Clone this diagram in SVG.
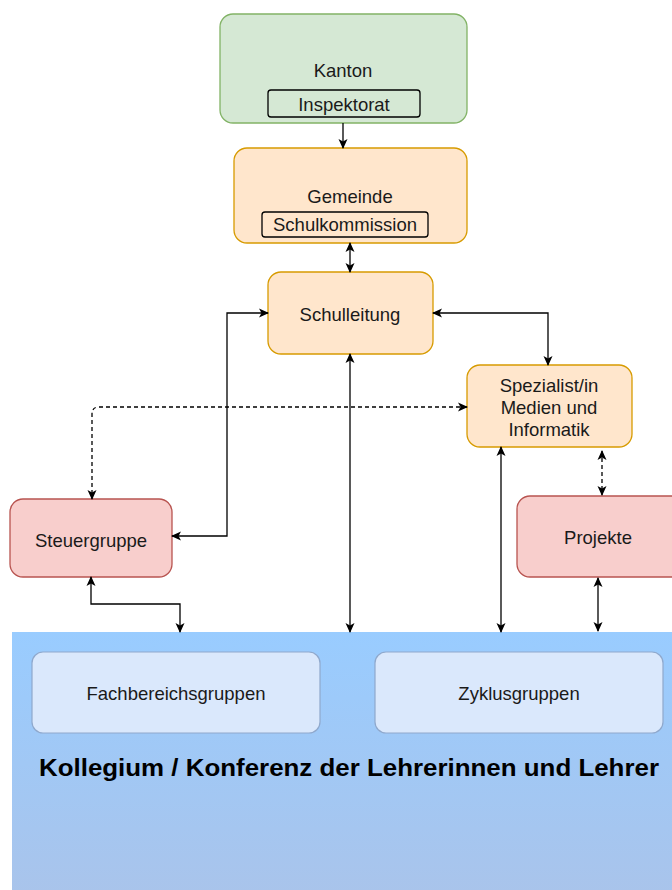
<svg xmlns="http://www.w3.org/2000/svg" width="672" height="890" viewBox="0 0 672 890">
<defs>
<linearGradient id="kg" x1="0" y1="0" x2="0" y2="1">
<stop offset="0" stop-color="#99ccff"/>
<stop offset="1" stop-color="#a9c4eb"/>
</linearGradient>
<marker id="ah" viewBox="0 0 10 10" refX="9" refY="5" markerWidth="10" markerHeight="10" markerUnits="userSpaceOnUse" orient="auto-start-reverse">
<path d="M0,0.5 L10,5 L0,9.5 L2.5,5 z" fill="#000"/>
</marker>
<style>
text{font-family:"Liberation Sans",Arial,Helvetica,sans-serif;font-size:18.5px;fill:#1a1a1a;text-anchor:middle}
.green{fill:#d5e8d4;stroke:#82b366;stroke-width:1.3}
.orange{fill:#ffe6cc;stroke:#d79b00;stroke-width:1.3}
.red{fill:#f8cecc;stroke:#b85450;stroke-width:1.3}
.sub{fill:none;stroke:#000;stroke-width:1.3}
.blue{fill:#dae8fc;stroke:#8fa8cc;stroke-width:1.2}
.c{fill:none;stroke:#000;stroke-width:1.3}
.d{stroke-dasharray:4 3}
.title{font-weight:bold;font-size:24.5px;fill:#000}
</style>
</defs>
<g id="kollegium">
<rect x="12" y="632" width="672" height="262" fill="url(#kg)"/>
<text class="title" x="349" y="776" textLength="620" lengthAdjust="spacingAndGlyphs">Kollegium / Konferenz der Lehrerinnen und Lehrer</text>
</g>
<g id="fachbereichsgruppen">
<rect class="blue" x="32" y="652" width="288" height="81" rx="11"/>
<text x="176" y="700">Fachbereichsgruppen</text>
</g>
<g id="zyklusgruppen">
<rect class="blue" x="375" y="652" width="288" height="81" rx="11"/>
<text x="519" y="700">Zyklusgruppen</text>
</g>
<g id="kanton">
<rect class="green" x="220" y="14" width="247" height="109" rx="13"/>
<text x="343" y="77">Kanton</text>
<rect class="sub" x="268" y="90" width="152" height="27" rx="3"/>
<text x="344" y="111">Inspektorat</text>
</g>
<g id="gemeinde">
<rect class="orange" x="234" y="148" width="233" height="95" rx="13"/>
<text x="350" y="203">Gemeinde</text>
<rect class="sub" x="262" y="212" width="166" height="25" rx="3"/>
<text x="345" y="231">Schulkommission</text>
</g>
<g id="schulleitung">
<rect class="orange" x="268" y="272" width="165" height="82" rx="13"/>
<text x="350" y="321">Schulleitung</text>
</g>
<g id="spezialist">
<rect class="orange" x="467" y="365" width="165" height="82" rx="13"/>
<text x="549" y="392">Spezialist/in</text>
<text x="549" y="414">Medien und</text>
<text x="549" y="436">Informatik</text>
</g>
<g id="steuergruppe">
<rect class="red" x="10" y="499" width="162" height="78" rx="13"/>
<text x="91" y="547">Steuergruppe</text>
</g>
<g id="projekte">
<rect class="red" x="517" y="496" width="170" height="81" rx="13"/>
<text x="598" y="544">Projekte</text>
</g>
<g id="connectors">
<path class="c" d="M343,123 V148" marker-end="url(#ah)"/>
<path class="c" d="M350,243 V272" marker-start="url(#ah)" marker-end="url(#ah)"/>
<path class="c" d="M268,313 H227 V536 H172" marker-start="url(#ah)" marker-end="url(#ah)"/>
<path class="c" d="M433,313 H548 V365" marker-start="url(#ah)" marker-end="url(#ah)"/>
<path class="c" d="M350,354 V632" marker-start="url(#ah)" marker-end="url(#ah)"/>
<path class="c d" d="M467,407 H99 Q92,407 92,414 V499" marker-start="url(#ah)" marker-end="url(#ah)"/>
<path class="c" d="M91,577 V604 H180 V632" marker-start="url(#ah)" marker-end="url(#ah)"/>
<path class="c" d="M501,447 V632" marker-start="url(#ah)" marker-end="url(#ah)"/>
<path class="c d" d="M602,451 V495" marker-start="url(#ah)" marker-end="url(#ah)"/>
<path class="c" d="M598,578 V631" marker-start="url(#ah)" marker-end="url(#ah)"/>
</g>
</svg>
